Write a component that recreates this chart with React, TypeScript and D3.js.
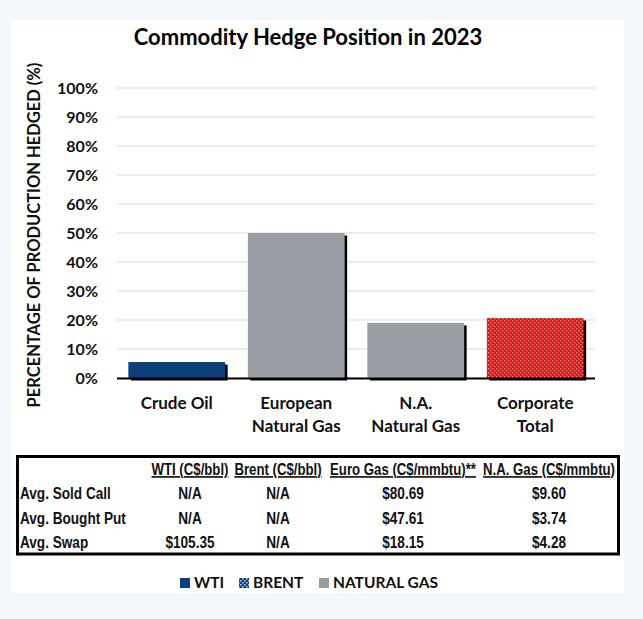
import React from 'react';
import * as d3 from 'd3';

const categories = ["Crude Oil", "European Natural Gas", "N.A. Natural Gas", "Corporate Total"];
const categoryLines = [["Crude Oil"], ["European", "Natural Gas"], ["N.A.", "Natural Gas"], ["Corporate", "Total"]];
const hedged = [0.055, 0.5, 0.19, 0.207];
const barKinds = ["wti", "gas", "gas", "total"];
const yTicks = [0, 0.1, 0.2, 0.3, 0.4, 0.5, 0.6, 0.7, 0.8, 0.9, 1.0];

const tableHeaders = ["WTI (C$/bbl)", "Brent (C$/bbl)", "Euro Gas (C$/mmbtu)**", "N.A. Gas (C$/mmbtu)"];
const tableRows = ["Avg. Sold Call", "Avg. Bought Put", "Avg. Swap"];
const wtiValues = ["N/A", "N/A", "$105.35"];
const brentValues = ["N/A", "N/A", "N/A"];
const euroGasValues = ["$80.69", "$47.61", "$18.15"];
const naGasValues = ["$9.60", "$3.74", "$4.28"];
const legendLabels = ["WTI", "BRENT", "NATURAL GAS"];
const legendKinds = ["wti", "brent", "gas"];

const W = 643, H = 619;
const NAVY = "#0c3f7c";
const GRAY = "#999ea5";
const RED = "#ff0a0a";
const FONT = "Lato, 'Open Sans', sans-serif";
const NARROW = "'Liberation Sans', Arial, sans-serif";
const SQX = 0.8;

const fillFor = (k: string) =>
  k === "wti" ? NAVY : k === "gas" ? GRAY : k === "brent" ? "url(#brentPat)" : "url(#redPat)";

function NarrowText(props: { x: number; y: number; anchor?: string; size: number; underline?: boolean; children: React.ReactNode }) {
  const { x, y, anchor = "start", size, underline, children } = props;
  return (
    <g transform={`translate(${x},${y}) scale(${SQX},1)`}>
      <text
        x={0}
        y={0}
        textAnchor={anchor as any}
        fontFamily={NARROW}
        fontWeight="bold"
        fontSize={size}
        fill="#111"
        style={underline ? { textDecoration: "underline" } : undefined}
      >
        {children}
      </text>
    </g>
  );
}

export default function App() {
  const x = d3.scaleBand<string>().domain(categories).range([117, 595]).paddingInner(0.19).paddingOuter(0.095);
  const y = d3.scaleLinear().domain([0, 1]).range([378, 88]);
  const fmt = d3.format(".0%");

  const colCenters = [190, 278, 403, 549];
  const columns = [wtiValues, brentValues, euroGasValues, naGasValues];
  const rowY = d3.scalePoint<string>().domain(tableRows).range([499, 548]);

  const legendX = [180, 239, 319];

  return (
    <svg width={W} height={H} style={{ position: "absolute", left: 0, top: 0 }}>
      <defs>
        <pattern id="redPat" patternUnits="userSpaceOnUse" width="4" height="4">
          <rect width="4" height="4" fill={RED} />
          <rect x="0" y="0" width="1.2" height="1.2" fill="#ffa0a0" />
          <rect x="2" y="2" width="1.2" height="1.2" fill="#ffa0a0" />
        </pattern>
        <pattern id="brentPat" patternUnits="userSpaceOnUse" width="4" height="4">
          <rect width="4" height="4" fill={NAVY} />
          <rect x="0" y="0" width="1.6" height="1.6" fill="#a9c3e0" />
          <rect x="2" y="2" width="1.6" height="1.6" fill="#a9c3e0" />
        </pattern>
      </defs>
      <rect width={W} height={H} fill="#f5f8fb" />
      <rect x={11} y={20} width={613} height={573} fill="#fff" />

      <text x={308} y={45} textAnchor="middle" fontFamily={FONT} fontWeight="bold" fontSize={22} fill="#000">
        Commodity Hedge Position in 2023
      </text>

      {yTicks.map((t) => (
        <line key={"g" + t} x1={117} x2={595} y1={y(t)} y2={y(t)} stroke="#d9d9d9" strokeWidth={1} />
      ))}
      {yTicks.map((t) => (
        <text key={"t" + t} x={98} y={y(t) + 5.8} textAnchor="end" fontFamily={FONT} fontWeight="bold" fontSize={16} fill="#111">
          {fmt(t)}
        </text>
      ))}

      <text
        transform={`translate(40,235) rotate(-90)`}
        textAnchor="middle"
        fontFamily={FONT}
        fontWeight="bold"
        fontSize={16.5}
        fill="#111"
      >
        PERCENTAGE OF PRODUCTION HEDGED (%)
      </text>

      {categories.map((c, i) => (
        <g key={c}>
          <rect x={(x(c) as number) + 2.5} y={y(hedged[i]) + 2.5} width={x.bandwidth()} height={y(0) - y(hedged[i])} fill="#000" />
          <rect x={x(c) as number} y={y(hedged[i])} width={x.bandwidth()} height={y(0) - y(hedged[i])} fill={fillFor(barKinds[i])} />
        </g>
      ))}
      <line x1={117} x2={595} y1={y(0) + 0.5} y2={y(0) + 0.5} stroke="#000" strokeWidth={2} />

      {categories.map((c, i) => (
        <text key={"c" + c} textAnchor="middle" fontFamily={FONT} fontWeight="bold" fontSize={17} fill="#111">
          {categoryLines[i].map((l, j) => (
            <tspan key={j} x={(x(c) as number) + x.bandwidth() / 2} y={409 + j * 23}>
              {l}
            </tspan>
          ))}
        </text>
      ))}

      <rect x={17.5} y={456.5} width={601} height={97.5} fill="#fff" stroke="#000" strokeWidth={3} />
      {tableHeaders.map((h, i) => (
        <NarrowText key={h} x={colCenters[i]} y={475} anchor="middle" size={16.5} underline>
          {h}
        </NarrowText>
      ))}
      {tableRows.map((r, ri) => (
        <g key={r}>
          <NarrowText x={20} y={rowY(r) as number} size={17}>
            {r}
          </NarrowText>
          {columns.map((col, ci) => (
            <NarrowText key={ci} x={colCenters[ci]} y={rowY(r) as number} anchor="middle" size={17}>
              {col[ri]}
            </NarrowText>
          ))}
        </g>
      ))}

      {legendLabels.map((l, i) => (
        <g key={l}>
          <rect x={legendX[i]} y={578} width={10} height={10} fill={fillFor(legendKinds[i])} />
          <text x={legendX[i] + 14} y={588} fontFamily={FONT} fontWeight="bold" fontSize={15.5} fill="#111">
            {l}
          </text>
        </g>
      ))}
    </svg>
  );
}
